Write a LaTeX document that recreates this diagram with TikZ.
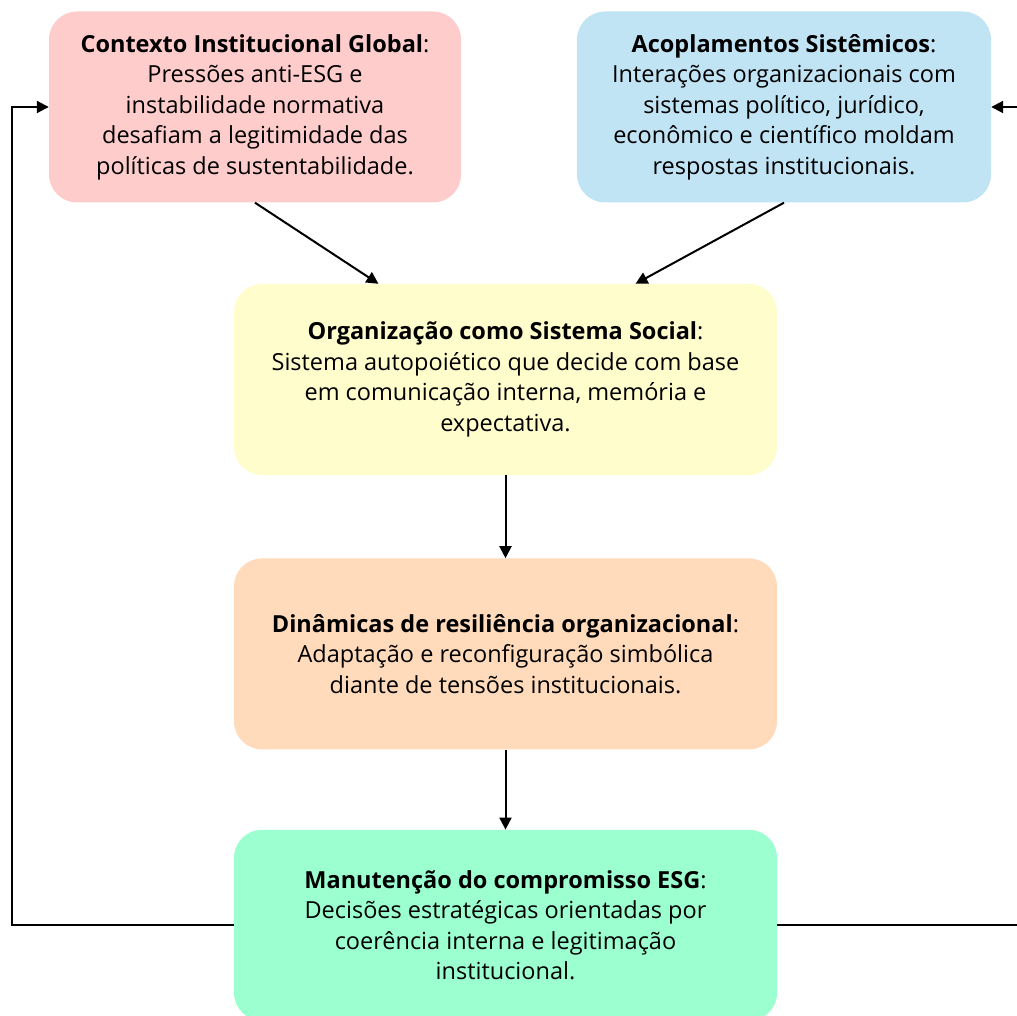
\documentclass[tikz,border=0pt]{standalone}
\usepackage{fontspec}
\setmainfont{Open Sans}
\usetikzlibrary{positioning,arrows.meta}
\definecolor{ctx}{RGB}{255,204,204}
\definecolor{acp}{RGB}{193,228,245}
\definecolor{org}{RGB}{255,253,204}
\definecolor{res}{RGB}{255,219,187}
\definecolor{esg}{RGB}{156,255,208}

\begin{document}
\begin{tikzpicture}[x=1pt,y=-1pt,%
  box/.style={rounded corners=28pt,minimum height=191pt,align=center,inner sep=0pt,%
    font=\fontsize{23.5}{30.5}\selectfont},%
  arr/.style={-{Triangle[length=12pt,width=12pt]},line width=2pt}%
  ]
  \useasboundingbox (0,0) rectangle (1017,1016);
%
  \node (ctx) [box,fill=ctx,minimum width=412pt] at (255,107)
    {\textbf{Contexto Institucional Global}:\\Pressões anti-ESG e\\instabilidade normativa\\desafiam a legitimidade das\\políticas de sustentabilidade.};
  \node (acp) [box,fill=acp,minimum width=414pt] at (784,107)
    {\textbf{Acoplamentos Sistêmicos}:\\Interações organizacionais com\\sistemas político, jurídico,\\econômico e científico moldam\\respostas institucionais.};
%
  \node (org) [box,fill=org,minimum width=543pt] at (505.5,379.5)
    {\textbf{Organização como Sistema Social}:\\Sistema autopoiético que decide com base\\em comunicação interna, memória e\\expectativa.};
  \node (res) [box,fill=res,minimum width=543pt,below=83pt of org]
    {\textbf{Dinâmicas de resiliência organizacional}:\\Adaptação e reconfiguração simbólica\\diante de tensões institucionais.};
  \node (esg) [box,fill=esg,minimum width=543pt,below=80pt of res]
    {\textbf{Manutenção do compromisso ESG}:\\Decisões estratégicas orientadas por\\coerência interna e legitimação\\institucional.};
%
  \draw[arr] (ctx.south) -- ([xshift=-127pt]org.north);
  \draw[arr] (acp.south) -- ([xshift=130pt]org.north);
  \draw[arr] (org) -- (res);
  \draw[arr] (res) -- (esg);
%
  \draw[arr] (esg.west) -- ++(-222,0) |- (ctx.west);
  \draw[arr] (esg.east) -- ++(260,0) |- (acp.east);
%
\end{tikzpicture}
\end{document}
